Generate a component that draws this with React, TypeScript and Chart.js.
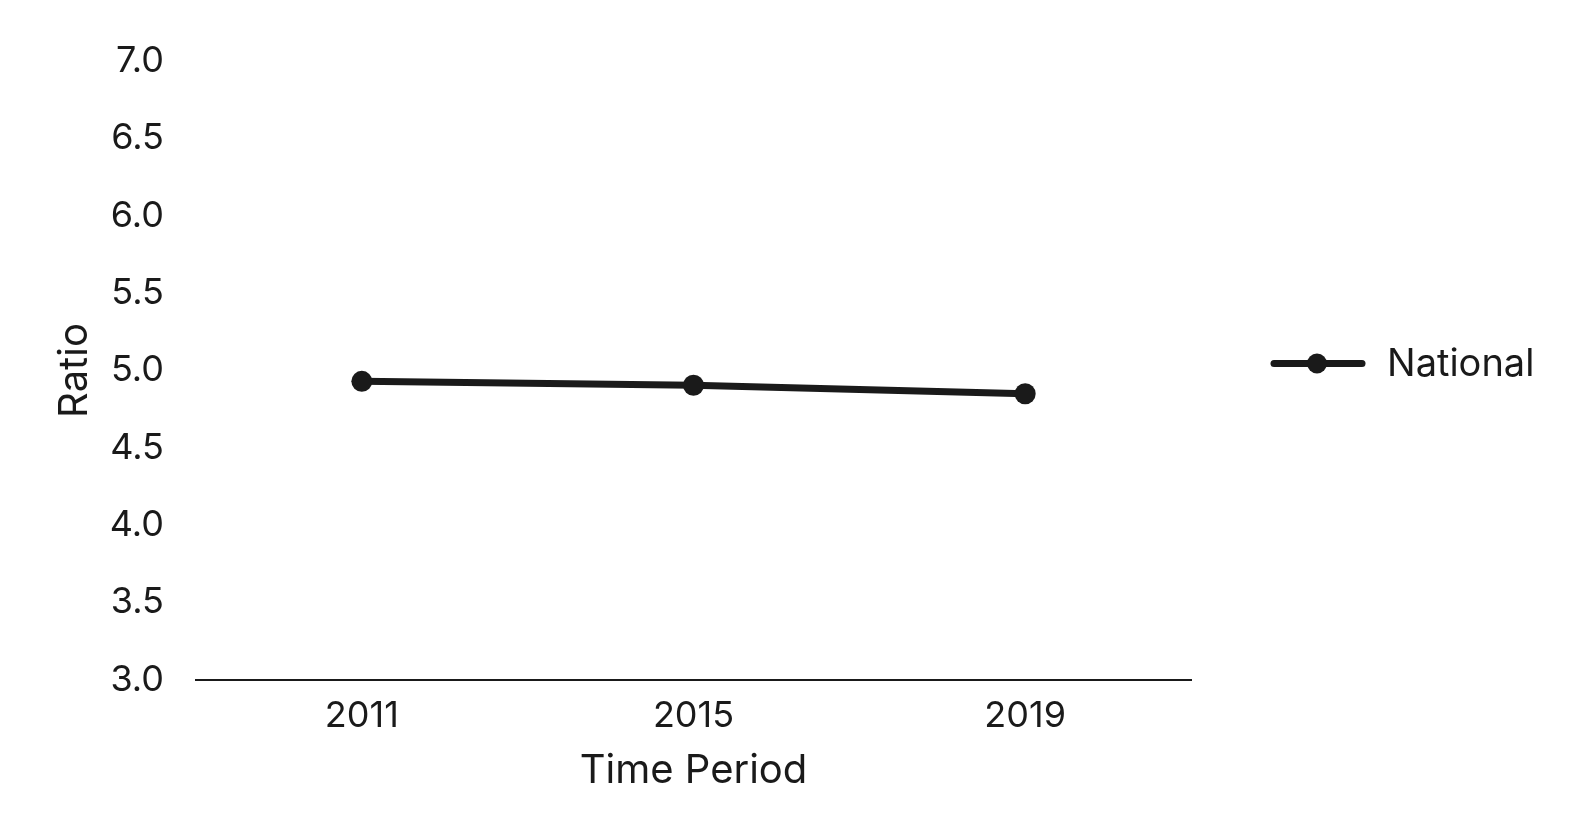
import React, { useEffect, useRef } from "react";
import { Chart, registerables } from "chart.js";

Chart.register(...registerables);

const categories = ["2011", "2015", "2019"];
const nationalValues = [4.93, 4.905, 4.85];
const seriesLabel = "National";
const yTicks = [3.0, 3.5, 4.0, 4.5, 5.0, 5.5, 6.0, 6.5, 7.0];

const FONT = "Inter, 'Noto Sans', sans-serif";
const INK = "#1a1a1a";

const sideLegend = {
  id: "sideLegend",
  afterDraw(chart: any) {
    const { ctx, chartArea } = chart;
    const cy = (chartArea.top + chartArea.bottom) / 2 - 7;
    let x = chartArea.right + 83;
    ctx.save();
    chart.data.datasets.forEach((ds: any) => {
      ctx.strokeStyle = ds.borderColor;
      ctx.lineWidth = 7;
      ctx.lineCap = "round";
      ctx.beginPath();
      ctx.moveTo(x, cy);
      ctx.lineTo(x + 88, cy);
      ctx.stroke();
      ctx.fillStyle = ds.borderColor;
      ctx.beginPath();
      ctx.arc(x + 43, cy, 10, 0, Math.PI * 2);
      ctx.fill();
      ctx.font = `38px ${FONT}`;
      ctx.textBaseline = "middle";
      ctx.textAlign = "left";
      ctx.fillStyle = INK;
      ctx.fillText(ds.label, x + 113, cy + 1);
    });
    ctx.restore();
  },
};

export default function App() {
  const ref = useRef<HTMLCanvasElement | null>(null);

  useEffect(() => {
    if (!ref.current) return;
    const chart = new Chart(ref.current, {
      type: "line",
      data: {
        labels: categories,
        datasets: [
          {
            label: seriesLabel,
            data: nationalValues,
            borderColor: INK,
            backgroundColor: INK,
            borderWidth: 7,
            pointRadius: 10.5,
            pointHoverRadius: 10.5,
            pointBackgroundColor: INK,
            pointBorderWidth: 0,
            tension: 0,
          },
        ],
      },
      options: {
        animation: false,
        responsive: true,
        maintainAspectRatio: false,
        layout: { padding: { top: 61, right: 385, bottom: 0, left: 0 } },
        plugins: {
          tooltip: { enabled: false },
          legend: { display: false },
        },
        scales: {
          x: {
            offset: true,
            grid: { display: false, drawTicks: false },
            border: { display: true, color: INK, width: 2 },
            ticks: {
              color: INK,
              font: { family: FONT, size: 36 },
              padding: 15,
            },
            title: {
              display: true,
              text: "Time Period",
              color: INK,
              font: { family: FONT, size: 40 },
              padding: { top: 0, bottom: 43 },
            },
            afterFit: (scale: any) => {
              scale.height = 158;
            },
          },
          y: {
            min: 3,
            max: 7,
            afterBuildTicks: (scale: any) => {
              scale.ticks = yTicks.map((v) => ({ value: v }));
            },
            grid: { display: false, drawTicks: false },
            border: { display: false },
            ticks: {
              color: INK,
              font: { family: FONT, size: 36 },
              padding: 32,
              callback: (v: any) => Number(v).toFixed(1),
            },
            title: {
              display: true,
              text: "Ratio",
              color: INK,
              font: { family: FONT, size: 40 },
              padding: { top: 51, bottom: 0 },
            },
            afterFit: (scale: any) => {
              scale.width = 196;
            },
          },
        },
      },
      plugins: [sideLegend],
    });
    return () => chart.destroy();
  }, []);

  return (
    <div style={{ position: "fixed", left: 0, top: 0, width: 1576, height: 838, background: "#fff" }}>
      <canvas ref={ref} />
    </div>
  );
}
